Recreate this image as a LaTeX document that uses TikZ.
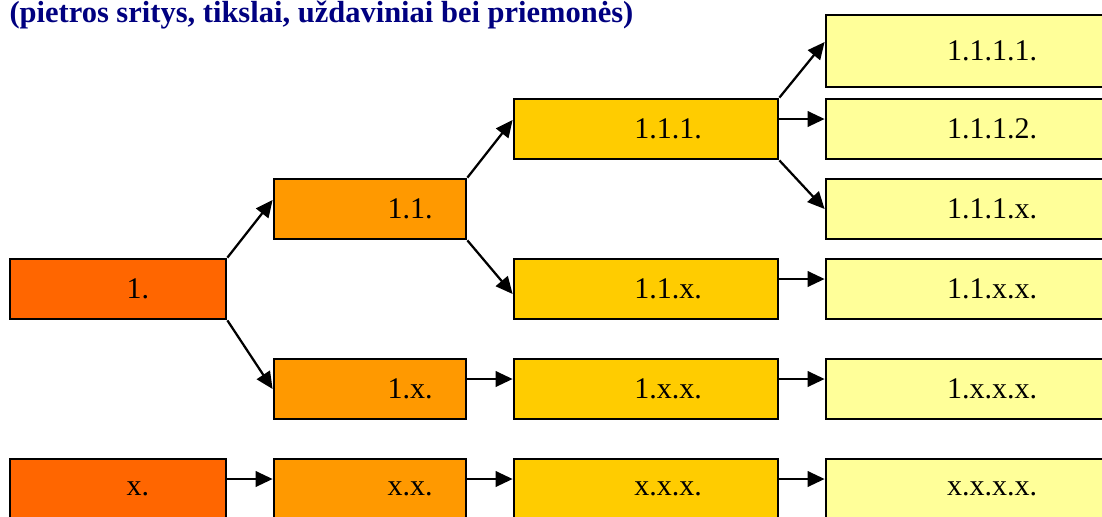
\documentclass[tikz,border=0pt]{standalone}
\usepackage{fontspec}
\setmainfont{Liberation Serif}
\usetikzlibrary{arrows.meta}

\definecolor{lvlone}{HTML}{FF6600}
\definecolor{lvltwo}{HTML}{FF9900}
\definecolor{lvlthree}{HTML}{FFCC00}
\definecolor{lvlfour}{HTML}{FFFF99}
\definecolor{titleblue}{HTML}{000080}

\tikzset{
  box/.style={draw, line width=1.1pt, minimum height=24pt, inner sep=0pt,
    font=\fontsize{12}{14}\selectfont},
  lvla/.style={box, fill=lvlone, minimum width=86.4pt,
    execute at begin node={\hspace*{16pt}}},
  lvlb/.style={box, fill=lvltwo, minimum width=76.8pt,
    execute at begin node={\hspace*{32pt}}},
  lvlc/.style={box, fill=lvlthree, minimum width=105.6pt,
    execute at begin node={\hspace*{17.6pt}}},
  lvld/.style={box, fill=lvlfour, minimum width=117.6pt,
    execute at begin node={\hspace*{15.2pt}}},
  link/.style={line width=0.9pt, -{Triangle[length=6.8pt,width=6.2pt]}},
  heading/.style={anchor=base west, inner sep=0pt, text=titleblue,
    font=\fontsize{12.2}{14}\selectfont\bfseries},
}

\begin{document}
\begin{tikzpicture}[x=0.4pt, y=-0.4pt]
    \useasboundingbox (0,0) rectangle (1102,516);
    \clip (0,0) rectangle (1102,516);

    % Title line
    \node[heading] (title) at (9,22) {(pietros sritys, tikslai, uždaviniai bei priemonės)};

    % First level
    \node[lvla] (n1) at (118,289) {1.};
    \node[lvla] (nx) at (118,489) {x.};

    % Second level
    \node[lvlb] (n11) at (370,209) {1.1.};
    \node[lvlb] (n1x) at (370,389) {1.x.};
    \node[lvlb] (nxx) at (370,489) {x.x.};

    % Third level
    \node[lvlc] (n111) at (646,129) {1.1.1.};
    \node[lvlc] (n11x) at (646,289) {1.1.x.};
    \node[lvlc] (n1xx) at (646,389) {1.x.x.};
    \node[lvlc] (nxxx) at (646,489) {x.x.x.};

    % Fourth level
    \node[lvld, minimum height=28.8pt] (n1111) at (973,51) {1.1.1.1.};
    \node[lvld] (n1112) at (973,129) {1.1.1.2.};
    \node[lvld] (n111x) at (973,209) {1.1.1.x.};
    \node[lvld] (n11xx) at (973,289) {1.1.x.x.};
    \node[lvld] (n1xxx) at (973,389) {1.x.x.x.};
    \node[lvld] (nxxxx) at (973,489) {x.x.x.x.};

    % Branches from the corners
    \draw[link] (n1.north east) -- ([yshift=3.6pt]n11.west);
    \draw[link] (n1.south east) -- (n1x.west);
    \draw[link] (n11.north east) -- ([yshift=3.6pt]n111.west);
    \draw[link] (n11.south east) -- ([yshift=-2pt]n11x.west);
    \draw[link] (n111.north east) -- ([yshift=3.6pt]n1111.west);
    \draw[link] (n111.south east) -- (n111x.west);

    % Straight links
    \draw[link] ([yshift=4pt]n111.east) -- ([yshift=4pt]n1112.west);
    \draw[link] ([yshift=4pt]n11x.east) -- ([yshift=4pt]n11xx.west);
    \draw[link] ([yshift=4pt]n1x.east) -- ([yshift=4pt]n1xx.west);
    \draw[link] ([yshift=4pt]n1xx.east) -- ([yshift=4pt]n1xxx.west);
    \draw[link] ([yshift=4pt]nx.east) -- ([yshift=4pt]nxx.west);
    \draw[link] ([yshift=4pt]nxx.east) -- ([yshift=4pt]nxxx.west);
    \draw[link] ([yshift=4pt]nxxx.east) -- ([yshift=4pt]nxxxx.west);
\end{tikzpicture}
\end{document}
